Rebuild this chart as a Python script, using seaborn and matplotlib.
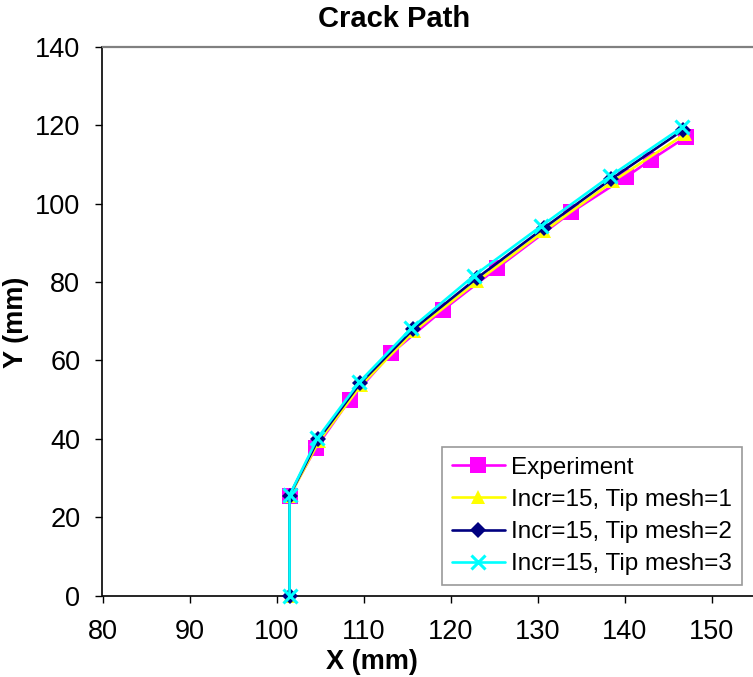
import numpy as np
import pandas as pd
import matplotlib
matplotlib.use("Agg")
import matplotlib.pyplot as plt
import seaborn as sns

# Crack path coordinates (mm)
exp_x = [101.5, 104.5, 108.4, 113.2, 119.1, 125.4, 133.9, 140.2, 143.0, 147.1]
exp_y = [25.5, 37.6, 49.9, 61.8, 72.8, 83.6, 97.8, 106.8, 111.1, 117.0]

mesh1_x = [101.5, 101.5, 104.9, 109.7, 115.8, 123.1, 130.8, 138.7, 147.0]
mesh1_y = [0.0, 25.3, 39.4, 53.6, 67.4, 80.2, 93.0, 105.7, 117.8]

mesh2_x = [101.5, 101.5, 104.8, 109.6, 115.7, 123.0, 130.7, 138.5, 146.7]
mesh2_y = [0.0, 25.5, 39.8, 54.1, 67.9, 80.9, 93.7, 106.3, 118.7]

mesh3_x = [101.5, 101.5, 104.7, 109.5, 115.5, 122.7, 130.4, 138.3, 146.6]
mesh3_y = [0.0, 25.6, 40.1, 54.4, 68.2, 81.6, 94.2, 106.9, 119.4]

series_names = ["Experiment", "Incr=15, Tip mesh=1",
                "Incr=15, Tip mesh=2", "Incr=15, Tip mesh=3"]
series_colors = ["#FF00FF", "#FFFF00", "#000080", "#00FFFF"]
series_markers = ["s", "^", "D", "x"]
series_msize = [11, 10, 8, 10.5]

x_ticks = [80, 90, 100, 110, 120, 130, 140, 150]
y_ticks = [0, 20, 40, 60, 80, 100, 120, 140]

sns.set_style("white")
plt.rcParams["font.family"] = ["Liberation Sans", "DejaVu Sans"]
plt.rcParams["text.color"] = "black"
plt.rcParams["axes.labelcolor"] = "black"
plt.rcParams["xtick.color"] = "black"
plt.rcParams["ytick.color"] = "black"

W, H = 753, 677
fig = plt.figure(figsize=(W / 100, H / 100), dpi=100)

# plot area in pixels (right edge runs past the canvas)
left, right, top, bottom = 102.5, 760.0, 46.7, 595.5
ax = fig.add_axes([left / W, 1 - bottom / H, (right - left) / W, (bottom - top) / H])

data = [(exp_x, exp_y), (mesh1_x, mesh1_y), (mesh2_x, mesh2_y), (mesh3_x, mesh3_y)]
for (xs, ys), name, col, mk, ms in zip(data, series_names, series_colors,
                                         series_markers, series_msize):
    df = pd.DataFrame({"x": xs, "y": ys})
    kw = dict(marker=mk, markersize=ms, color=col, linewidth=1.9, label=name,
              clip_on=False, zorder=3)
    if mk == "x":
        kw.update(markeredgewidth=2.2, markeredgecolor=col)
    else:
        kw.update(markeredgewidth=0)
    sns.lineplot(data=df, x="x", y="y", sort=False, estimator=None, ax=ax, **kw)

px_per_unit = 8.7
ax.set_xlim(80, 80 + (right - left) / px_per_unit)
ax.set_ylim(0, 140)
ax.set_xticks(x_ticks)
ax.set_yticks(y_ticks)
ax.tick_params(axis="both", which="major", labelsize=19.5, direction="out",
               length=5, width=1, color="#000000", labelcolor="black",
               left=True, bottom=True)
ax.tick_params(axis="x", pad=12)
ax.tick_params(axis="y", pad=11)

for s in ["left", "bottom"]:
    ax.spines[s].set_color("#000000")
    ax.spines[s].set_linewidth(1.2)
ax.spines["top"].set_color("#808080")
ax.spines["top"].set_linewidth(1.6)
ax.spines["right"].set_visible(False)

ax.set_xlabel("X (mm)", fontsize=19.5, fontweight="bold", va="center")
ax.xaxis.set_label_coords((372 - left) / (right - left), (bottom - 662) / (bottom - top))
ax.set_ylabel("Y (mm)", fontsize=19.5, fontweight="bold", va="center")
ax.yaxis.set_label_coords((16 - left) / (right - left), (bottom - 322) / (bottom - top))

fig.suptitle("Crack Path", x=394 / W, y=1 - 19 / H, va="center",
             fontsize=21, fontweight="bold")

leg = ax.legend(loc="upper left", bbox_to_anchor=(442 / W, 1 - 447 / H),
                bbox_transform=fig.transFigure, borderaxespad=0,
                fontsize=17.5, frameon=True, fancybox=False, shadow=False,
                handlelength=2.2, handletextpad=0.25, labelspacing=0.42,
                borderpad=0.4)
leg.get_frame().set_edgecolor("#808080")
leg.get_frame().set_linewidth(1.2)
leg.set_zorder(5)

fig.savefig("out.png", dpi=100)
